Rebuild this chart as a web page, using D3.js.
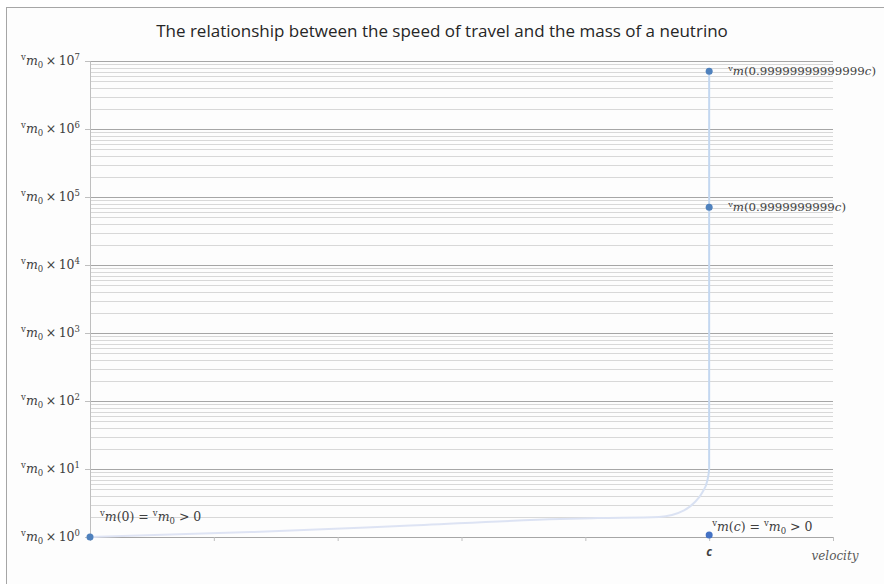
<!DOCTYPE html>
<html>
<head>
<meta charset="utf-8">
<script src="https://cdn.jsdelivr.net/npm/d3@7"></script>
<style>
  html, body { margin: 0; padding: 0; background: #ffffff; }
  svg { display: block; }
</style>
</head>
<body>
<script>
// Relativistic mass of a neutrino vs. its speed (speed as a fraction of c, mass in multiples of m0)
const curveVelocity = [0, 0.26, 0.5, 0.76, 0.82, 0.919, 0.9594, 0.9762, 0.9889, 0.997, 0.99997, 0.9999999999, 0.99999999999999];
const curveMass     = [1, 1.18, 1.45, 1.84, 1.9, 1.97, 2.46, 3.21, 4.51, 6.73, 10, 70711, 7071068];

// Labelled points
const markVelocity = [0, 0.9999999999, 0.99999999999999];
const markMass     = [1, 70711, 7071068];
const markLabel    = ["", "0.9999999999", "0.99999999999999"];

// Separate point at the speed of light
const lightVelocity = [1];
const lightMass     = [1];

// Axis ticks
const yExponents = [0, 1, 2, 3, 4, 5, 6, 7];
const xTicks = [0, 0.2, 0.4, 0.6, 0.8, 1.0, 1.2];

const W = 884, H = 584;
const svg = d3.select("body").append("svg").attr("width", W).attr("height", H);

// chart frame
svg.append("rect").attr("x", 0).attr("y", 0).attr("width", W).attr("height", H).attr("fill", "#ffffff");
svg.append("rect").attr("x", 6.5).attr("y", 7.5).attr("width", 1000).attr("height", 1000)
  .attr("fill", "#fdfdfd").attr("stroke", "#a6a6a6").attr("stroke-width", 1);

svg.append("text")
  .attr("x", 442).attr("y", 37)
  .attr("text-anchor", "middle")
  .attr("font-family", "'Open Sans', sans-serif")
  .attr("font-size", 17)
  .attr("fill", "#262626")
  .text("The relationship between the speed of travel and the mass of a neutrino");

const x = d3.scaleLinear().domain([0, 1.2]).range([90, 833]);
const y = d3.scaleLog().domain([1, 1e7]).range([537, 61]);

const crisp = v => Math.round(v) + 0.5;

// gridlines: minor (2..9 in each decade) then major
const minorVals = [];
for (let d = 0; d < 7; d++) for (let k = 2; k <= 9; k++) minorVals.push(k * Math.pow(10, d));
const grid = svg.append("g");
grid.selectAll("line.minor").data(minorVals).join("line")
  .attr("class", "minor")
  .attr("x1", x(0)).attr("x2", x(1.2))
  .attr("y1", d => crisp(y(d))).attr("y2", d => crisp(y(d)))
  .attr("stroke", "#d8d8d8").attr("stroke-width", 1);
grid.selectAll("line.major").data(yExponents.slice(1)).join("line")
  .attr("class", "major")
  .attr("x1", x(0)).attr("x2", x(1.2))
  .attr("y1", d => crisp(y(Math.pow(10, d)))).attr("y2", d => crisp(y(Math.pow(10, d))))
  .attr("stroke", "#a6a6a6").attr("stroke-width", 1);

// y axis
const yAxis = svg.append("g").attr("transform", `translate(${crisp(x(0)) - 0.5},0)`)
  .call(d3.axisLeft(y).tickValues(yExponents.map(e => Math.pow(10, e))).tickSize(5).tickFormat(""));
yAxis.select(".domain").attr("stroke", "#bfbfbf");
yAxis.selectAll(".tick line").attr("stroke", "#bfbfbf");

// x axis
const xAxis = svg.append("g").attr("transform", `translate(0,${crisp(y(1)) - 0.5})`)
  .call(d3.axisBottom(x).tickValues(xTicks).tickSize(4).tickSizeOuter(0).tickFormat(""));
xAxis.select(".domain").attr("stroke", "#a6a6a6");
xAxis.selectAll(".tick line").attr("stroke", "#bfbfbf");

// math-style rich label: parts are [text, kind] with kind in n | it | sup | sub
const MATH_FONT = "'DejaVu Serif', 'Liberation Serif', serif";
function mathLabel(g, parts, size) {
  const t = g.append("text").attr("font-family", MATH_FONT).attr("font-size", size).attr("fill", "#404040");
  let shift = 0;
  parts.forEach(([s, kind]) => {
    const sp = t.append("tspan").text(s);
    let target = 0;
    if (kind === "sup") { target = -size * 0.38; sp.attr("font-size", size * 0.68); }
    if (kind === "sub") { target = size * 0.22; sp.attr("font-size", size * 0.68); }
    if (kind === "it") sp.attr("font-style", "italic");
    sp.attr("dy", target - shift);
    shift = target;
  });
  return t;
}

// y tick labels
yExponents.forEach(e => {
  mathLabel(svg.append("g"), [["v", "sup"], ["m", "it"], ["0", "sub"], ["\u2009\u00d7\u200910", "n"], [String(e), "sup"]], 12.5)
    .attr("x", 80).attr("y", y(Math.pow(10, e)) + 4).attr("text-anchor", "end");
});

// mass curve, paler along its slow rise and bluer where it climbs
const defs = svg.append("defs");
const grad = defs.append("linearGradient").attr("id", "massStroke")
  .attr("gradientUnits", "userSpaceOnUse")
  .attr("x1", 0).attr("x2", 0).attr("y1", y(1)).attr("y2", y(12));
grad.append("stop").attr("offset", "0%").attr("stop-color", "#dfe4f4");
grad.append("stop").attr("offset", "60%").attr("stop-color", "#d8e1f2");
grad.append("stop").attr("offset", "100%").attr("stop-color", "#c3d7f0");

const line = d3.line()
  .x(d => x(d[0])).y(d => y(d[1]))
  .curve(d3.curveMonotoneX);
svg.append("path")
  .datum(d3.zip(curveVelocity, curveMass))
  .attr("d", line)
  .attr("fill", "none")
  .attr("stroke", "url(#massStroke)")
  .attr("stroke-width", 2);

// markers
svg.selectAll("circle.mark").data(d3.zip(markVelocity, markMass)).join("circle")
  .attr("class", "mark")
  .attr("cx", d => x(d[0])).attr("cy", d => y(d[1])).attr("r", 3.5)
  .attr("fill", "#4f81bd");
svg.selectAll("circle.light").data(d3.zip(lightVelocity, lightMass)).join("circle")
  .attr("class", "light")
  .attr("cx", d => x(d[0])).attr("cy", d => y(d[1]) - 2).attr("r", 3.5)
  .attr("fill", "#4472c4");

// point labels
markVelocity.forEach((v, i) => {
  if (!markLabel[i]) return;
  mathLabel(svg.append("g"), [["v", "sup"], ["m", "it"], ["(" + markLabel[i], "n"], ["c", "it"], [")", "n"]], 11.8)
    .attr("x", x(v) + 19).attr("y", y(markMass[i]) + 4);
});
mathLabel(svg.append("g"), [["v", "sup"], ["m", "it"], ["(0) = ", "n"], ["v", "sup"], ["m", "it"], ["0", "sub"], [" > 0", "n"]], 12.5)
  .attr("x", x(markVelocity[0]) + 10).attr("y", y(markMass[0]) - 16);
mathLabel(svg.append("g"), [["v", "sup"], ["m", "it"], ["(", "n"], ["c", "it"], [") = ", "n"], ["v", "sup"], ["m", "it"], ["0", "sub"], [" > 0", "n"]], 12.5)
  .attr("x", x(lightVelocity[0]) + 3).attr("y", y(lightMass[0]) - 6);

// x axis annotations
svg.append("text")
  .attr("x", x(1)).attr("y", 556)
  .attr("text-anchor", "middle")
  .attr("font-family", "'Open Sans', sans-serif").attr("font-style", "italic").attr("font-weight", "bold")
  .attr("font-size", 12).attr("fill", "#404040")
  .text("c");
svg.append("text")
  .attr("x", 835).attr("y", 560)
  .attr("text-anchor", "middle")
  .attr("font-family", "'DejaVu Serif', serif").attr("font-style", "italic")
  .attr("font-size", 12).attr("fill", "#595959")
  .text("velocity");
</script>
</body>
</html>
